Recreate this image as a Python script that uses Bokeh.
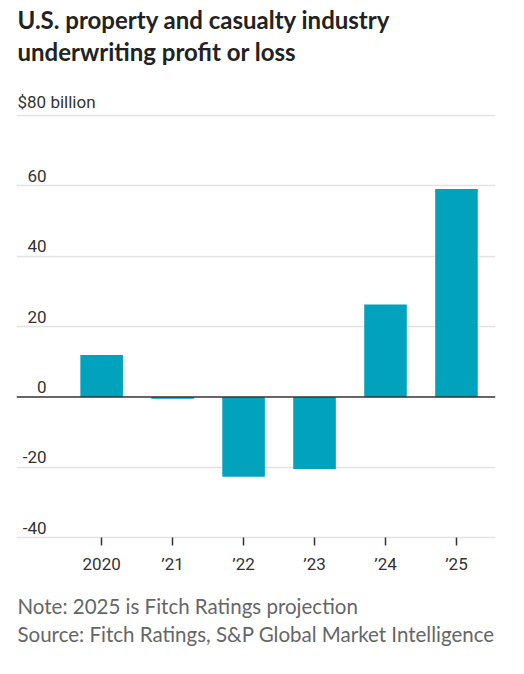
from bokeh.plotting import figure
from bokeh.models import Title, Range1d, FixedTicker, Span, ColumnDataSource
from bokeh.core.properties import value
from bokeh.embed import file_html
from bokeh.resources import INLINE

# Data
years = ["2020", "\u201921", "\u201922", "\u201923", "\u201924", "\u201925"]
profit = [11.9, -0.5, -22.7, -20.5, 26.3, 59.1]
grid_ticks = [-40, -20, 20, 40, 60, 80]
y_labels = ["-40", "-20", "0", "20", "40", "60"]
y_label_vals = [-40, -20, 0, 20, 40, 60]
title_lines = ["U.S. property and casualty industry", "underwriting profit or loss"]
note_lines = ["Note: 2025 is Fitch Ratings projection",
              "Source: Fitch Ratings, S&P Global Market Intelligence"]

BAR = "#00a2bc"
XMIN, XMAX = -1.2, 5.55

xs = list(range(len(years)))
src = ColumnDataSource(dict(x=xs, top=profit))

p = figure(width=516, height=666, output_backend="svg", toolbar_location=None,
           x_range=Range1d(XMIN, XMAX), y_range=Range1d(-40, 88),
           min_border_left=16, min_border_right=21, min_border_top=87, min_border_bottom=129,
           title=None)
p.outline_line_color = None
p.background_fill_color = "white"
p.border_fill_color = "white"

# spacer above the plot, then title lines (nearest-to-plot first)
p.add_layout(Title(text=" ", text_font_size="10px", standoff=8), "above")
title_standoffs = [2, 0]
for t, so in zip(reversed(title_lines), title_standoffs):
    p.add_layout(Title(text=t, align="left", text_font="Lato", text_font_size="24px",
                       text_font_style="bold", text_color="#222222", offset=1, standoff=so), "above")

# grid
p.xgrid.visible = False
p.ygrid.ticker = FixedTicker(ticks=grid_ticks)
p.ygrid.grid_line_color = "#e2e2e2"
p.ygrid.grid_line_width = 1.5
p.yaxis.visible = False

p.vbar(x="x", top="top", bottom=0, width=0.6, source=src, fill_color=BAR, line_color=None)

p.add_layout(Span(location=0, dimension="width", line_color="#333333", line_width=1.5))

# y labels
p.text(x=[XMIN] * len(y_labels), y=y_label_vals, text=y_labels, x_offset=30, y_offset=-4,
       text_align="right", text_baseline="bottom", text_font=value("Roboto"),
       text_font_size="17px", text_color="#333333")
p.text(x=[XMIN], y=[80], text=["$80 billion"], x_offset=1, y_offset=-4,
       text_align="left", text_baseline="bottom", text_font=value("Roboto"),
       text_font_size="17px", text_color="#333333")

# x axis
xa = p.xaxis[0]
xa.ticker = FixedTicker(ticks=xs)
xa.major_label_overrides = {i: y for i, y in enumerate(years)}
xa.axis_line_color = "#e2e2e2"
xa.axis_line_width = 1.5
xa.major_tick_in = 0
xa.major_tick_out = 8
xa.major_tick_line_color = "#333333"
xa.major_tick_line_width = 1.5
xa.minor_tick_line_color = None
xa.major_label_standoff = 8
xa.major_label_text_font = "Roboto"
xa.major_label_text_font_size = "17px"
xa.major_label_text_color = "#333333"

# spacer below the axis, then notes
p.add_layout(Title(text=" ", text_font_size="10px", standoff=0), "below")
note_standoffs = [4, 1]
for t, so in zip(note_lines, note_standoffs):
    p.add_layout(Title(text=t, align="left", text_font="Lato", text_font_size="20.5px",
                       text_font_style="normal", text_color="#666666", offset=1, standoff=so), "below")

open("out.html", "w").write(file_html(p, INLINE))
